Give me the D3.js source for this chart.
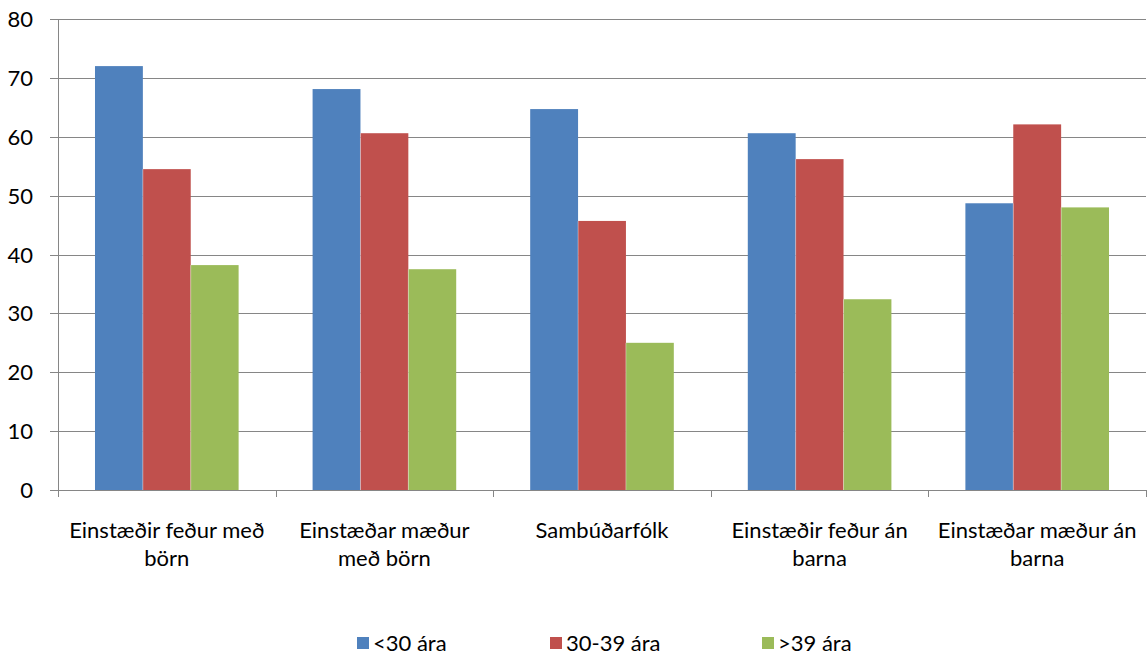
<!DOCTYPE html>
<html><head><meta charset="utf-8">
<script src="https://cdn.jsdelivr.net/npm/d3@7"></script>
<style>body{margin:0;background:#fff}svg{display:block}text{font-family:Lato,"Open Sans",sans-serif;fill:#000}</style>
</head><body><svg id="c" width="1148" height="662"></svg>
<script>
const categories = [["Einstæðir feður með","börn"],["Einstæðar mæður","með börn"],["Sambúðarfólk"],["Einstæðir feður án","barna"],["Einstæðar mæður án","barna"]];
const seriesNames = ["<30 ára","30-39 ára",">39 ára"];
const under30 = [72.0, 68.1, 64.7, 60.6, 48.7];
const age30to39 = [54.5, 60.6, 45.7, 56.2, 62.1];
const over39 = [38.2, 37.5, 25.0, 32.4, 48.0];
const yTicks = [0,10,20,30,40,50,60,70,80];
const colors = ["#4F81BD","#C0504D","#9BBB59"];
const series = [under30, age30to39, over39];

const svg = d3.select("#c");
const pLeft = 58, pRight = 1146, pTop = 19, pBottom = 490;
const x = d3.scaleBand().domain(d3.range(categories.length)).range([pLeft, pRight]).paddingInner(0).paddingOuter(0);
const y = d3.scaleLinear().domain([0,80]).range([pBottom, pTop]);
const gridColor = "#868686";
const fs = 22;

// gridlines
svg.append("g").selectAll("line").data(yTicks).join("line")
  .attr("x1", pLeft-8).attr("x2", pRight).attr("y1", d=>Math.round(y(d))+0.5).attr("y2", d=>Math.round(y(d))+0.5)
  .attr("stroke", gridColor).attr("stroke-width",1);
// y labels
svg.append("g").selectAll("text").data(yTicks).join("text")
  .attr("x", 33).attr("y", d=>y(d)+8).attr("text-anchor","end")
  .attr("font-size", fs).text(d=>d);

// bars
const gw = x.bandwidth();
const bw = gw*0.22;
const off = (gw - 3*bw)/2;
series.forEach((s, si) => {
  svg.append("g").selectAll("rect").data(s).join("rect")
    .attr("x", (d,i)=> x(i)+off+si*bw)
    .attr("y", d=>y(d)).attr("width", bw).attr("height", d=>y(0)-y(d))
    .attr("fill", colors[si]);
});
// thin separators
series.forEach((s, si) => {
  if (si===0) return;
  svg.append("g").selectAll("line").data(s).join("line")
    .attr("x1",(d,i)=>x(i)+off+si*bw).attr("x2",(d,i)=>x(i)+off+si*bw)
    .attr("y1",(d,i)=>y(Math.min(d, series[si-1][i]))).attr("y2", y(0))
    .attr("stroke","rgba(255,255,255,0.35)").attr("stroke-width",1);
});

// axes
svg.append("line").attr("x1", pLeft+0.5).attr("x2", pLeft+0.5).attr("y1", pTop).attr("y2", pBottom+7).attr("stroke", gridColor);
svg.append("line").attr("x1", pLeft).attr("x2", pRight).attr("y1", pBottom+0.5).attr("y2", pBottom+0.5).attr("stroke", gridColor);
svg.append("g").selectAll("line").data(d3.range(categories.length+1)).join("line")
  .attr("x1", d=> Math.round(d<categories.length ? x(d) : pRight)+0.5)
  .attr("x2", d=> Math.round(d<categories.length ? x(d) : pRight)+0.5)
  .attr("y1", pBottom).attr("y2", pBottom+7).attr("stroke", gridColor);

// category labels
categories.forEach((lines, i) => {
  const t = svg.append("text").attr("text-anchor","middle").attr("font-size",fs)
    .attr("x", x(i)+gw/2).attr("y", 538);
  lines.forEach((l, j) => t.append("tspan").attr("x", x(i)+gw/2).attr("dy", j===0?0:28).text(l));
});

// legend
const legX = [357, 550, 762];
seriesNames.forEach((n, i) => {
  svg.append("rect").attr("x", legX[i]).attr("y", 637).attr("width", 12).attr("height", 12).attr("fill", colors[i]);
  svg.append("text").attr("x", legX[i]+16).attr("y", 651).attr("font-size",fs).text(n);
});
</script></body></html>
